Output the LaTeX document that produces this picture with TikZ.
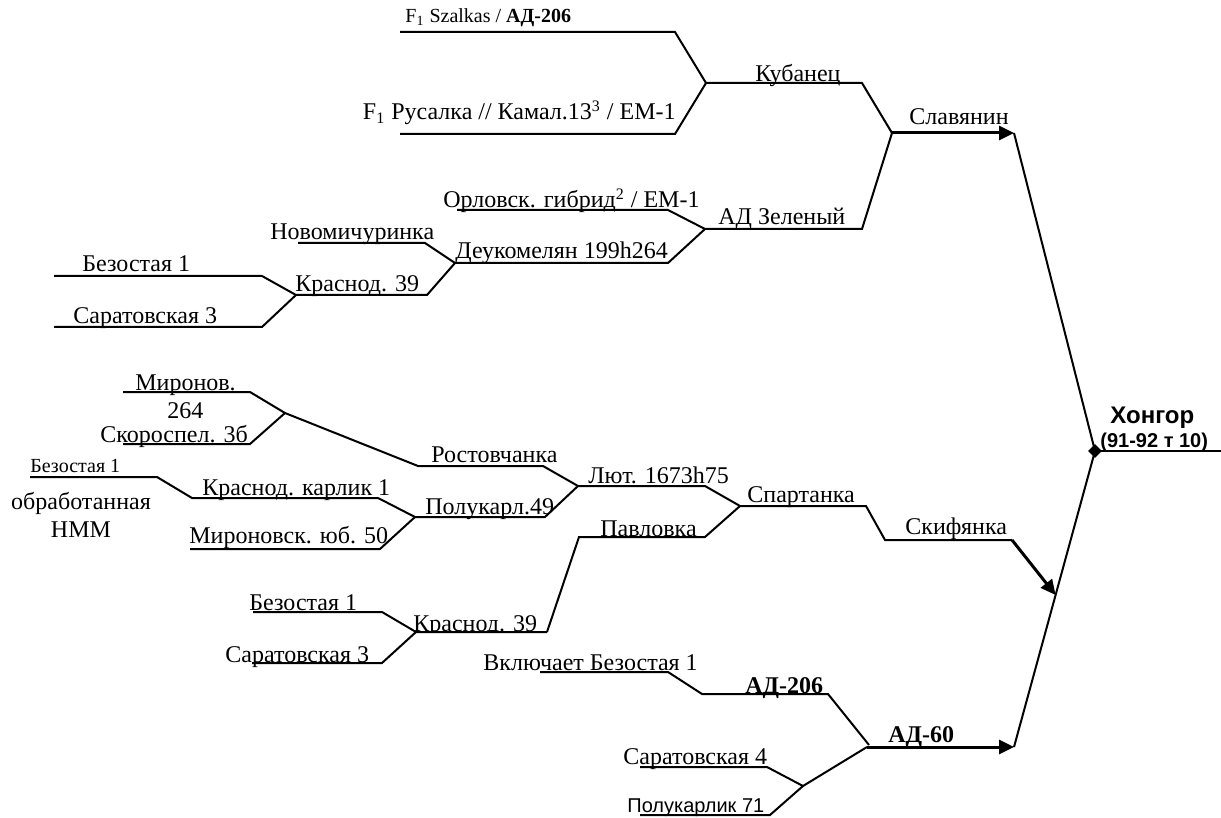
\documentclass[tikz,border=0pt]{standalone}
\usepackage{fontspec}
\setmainfont{Liberation Serif}
\setsansfont{Liberation Sans}
\usetikzlibrary{arrows.meta,shapes.geometric}
\begin{document}
\begin{tikzpicture}[x=0.5pt,y=-0.5pt,
  ln/.style={line width=1pt, line join=miter},
  arr/.style={line width=1.5pt,-{Triangle[length=7.5pt,width=7pt]}},
  lbl/.style={inner sep=0pt, anchor=base west, font=\fontsize{12}{14}\selectfont},
  sml/.style={lbl, font=\fontsize{10}{12}\selectfont},
  ssf/.style={lbl, font=\fontsize{10}{12}\selectfont\sffamily},
  junc/.style={diamond, fill=black, inner sep=0pt, minimum width=7pt, minimum height=7pt}]
\useasboundingbox (0,0) rectangle (1221,818);
% ---------- coordinates (top group)
\coordinate (sz0) at (400,32);  \coordinate (sz1) at (675,32);
\coordinate (ru0) at (400,134); \coordinate (ru1) at (675,134);
\coordinate (ku0) at (706,83);  \coordinate (ku1) at (862,83);
\coordinate (sl0) at (892,133); \coordinate (sl1) at (1014,133);
\coordinate (az0) at (705,229); \coordinate (az1) at (862,229);
\coordinate (or0) at (457,210); \coordinate (or1) at (668,210);
\coordinate (de0) at (455,263); \coordinate (de1) at (668,263);
\coordinate (nm0) at (298,243); \coordinate (nm1) at (425,243);
\coordinate (kr0) at (296,295); \coordinate (kr1) at (427,295);
\coordinate (be0) at (54,276);  \coordinate (be1) at (262,276);
\coordinate (sa0) at (54,327);  \coordinate (sa1) at (262,327);
% ---------- coordinates (middle group)
\coordinate (mi0) at (123,392); \coordinate (mi1) at (250,392);
\coordinate (mj)  at (285,413);
\coordinate (sk0) at (123,444); \coordinate (sk1) at (250,444);
\coordinate (ro0) at (418,466); \coordinate (ro1) at (543,466);
\coordinate (po0) at (415,517); \coordinate (po1) at (545,517);
\coordinate (bs0) at (30,477);  \coordinate (bs1) at (157,477);
\coordinate (kk0) at (192,498); \coordinate (kk1) at (378,498);
\coordinate (my0) at (190,549); \coordinate (my1) at (380,549);
\coordinate (lu0) at (578,486); \coordinate (lu1) at (705,486);
\coordinate (pa0) at (579,537); \coordinate (pa1) at (705,537);
\coordinate (sp0) at (740,506); \coordinate (sp1) at (866,506);
\coordinate (sf0) at (885,540); \coordinate (sf1) at (1012,540);
\coordinate (sft) at (1055.6,595);
% ---------- coordinates (bottom group)
\coordinate (b20) at (253,612); \coordinate (b21) at (382,612);
\coordinate (s20) at (252,663); \coordinate (s21) at (382,663);
\coordinate (k20) at (416,632); \coordinate (k21) at (547,632);
\coordinate (vb0) at (540,672); \coordinate (vb1) at (668,672);
\coordinate (a20) at (702,694); \coordinate (a21) at (828,694);
\coordinate (a6j) at (869,745);
\coordinate (a60) at (867,747); \coordinate (a61) at (1014,747);
\coordinate (s40) at (640,767); \coordinate (s41) at (767,767);
\coordinate (pk0) at (640,815); \coordinate (pk1) at (770,815);
\coordinate (pj)  at (803,786);
\coordinate (he)  at (1221,451);
% ---------- lines (top)
\draw[ln] (sz0) -- (sz1) -- (ku0) -- (ku1) -- (sl0);
\draw[ln] (ru0) -- (ru1) -- (ku0);
\draw[ln] (or0) -- (or1) -- (az0) -- (az1) -- (sl0);
\draw[ln] (de0) -- (de1) -- (az0);
\draw[ln] (nm0) -- (nm1) -- (de0);
\draw[ln] (kr0) -- (kr1) -- (de0);
\draw[ln] (be0) -- (be1) -- (kr0);
\draw[ln] (sa0) -- (sa1) -- (kr0);
\draw[arr] (sl0) -- (sl1);
% ---------- lines (middle)
\draw[ln] (mi0) -- (mi1) -- (mj) -- (ro0) -- (ro1) -- (lu0) -- (lu1) -- (sp0) -- (sp1) -- (sf0) -- (sf1);
\draw[ln] (sk0) -- (sk1) -- (mj);
\draw[ln] (bs0) -- (bs1) -- (kk0) -- (kk1) -- (po0) -- (po1) -- (lu0);
\draw[ln] (my0) -- (my1) -- (po0);
\draw[ln] (k21) -- (pa0) -- (pa1) -- (sp0);
\draw[arr] (sf1) -- (sft);
% ---------- lines (bottom)
\draw[ln] (b20) -- (b21) -- (k20) -- (k21);
\draw[ln] (s20) -- (s21) -- (k20);
\draw[ln] (vb0) -- (vb1) -- (a20) -- (a21) -- (a6j);
\draw[ln] (s40) -- (s41) -- (pj) -- (a60);
\draw[ln] (pk0) -- (pk1) -- (pj);
\draw[arr] (a60) -- (a61);
% ---------- final junction
\node[junc] (hk) at (1095,451) {};
\draw[ln] (sl1) -- (hk.center);
\draw[ln] (a61) -- (hk.center);
\draw[ln] (hk.center) -- (he);
% ---------- labels (top)
\node[sml] (tsz) at (405,23) {F\textsubscript{1} Szalkas / \textbf{АД-206}};
\node[lbl, anchor=base east] (tru) at (676,120) {F\textsubscript{1} Русалка // Камал.13\textsuperscript{3} / ЕМ-1};
\node[lbl] (tku) at (755,82) {Кубанец};
\node[lbl] (tsl) at (909,125) {Славянин};
\node[lbl] (tor) at (443,208) {Орловск. гибрид\textsuperscript{2} / ЕМ-1};
\node[lbl] (taz) at (718,225) {АД Зеленый};
\node[lbl] (tnm) at (270,240) {Новомичуринка};
\node[lbl] (tde) at (455,259) {Деукомелян 199h264};
\node[lbl] (tkr) at (295,292) {Краснод. 39};
\node[lbl] (tbe) at (82,272) {Безостая 1};
\node[lbl] (tsa) at (73,323) {Саратовская 3};
% ---------- labels (middle)
\node[lbl] (tmi) at (135,390) {Миронов.};
\node[lbl] (t264) at (167,418) {264};
\node[lbl] (tsk) at (100,442) {Скороспел. 3б};
\node[sml] (tbs) at (30,472) {Безостая 1};
\node[lbl, anchor=base] (tob) at (81,509) {обработанная};
\node[lbl, anchor=base] (tnmm) at (81,537) {НММ};
\node[lbl] (tro) at (431,462) {Ростовчанка};
\node[lbl] (tkk) at (202,495) {Краснод. карлик 1};
\node[lbl] (tpo) at (425,514) {Полукарл.49};
\node[lbl] (tmy) at (189,543) {Мироновск. юб. 50};
\node[lbl] (tlu) at (588,483) {Лют. 1673h75};
\node[lbl] (tpa) at (600,536) {Павловка};
\node[lbl] (tsp) at (747,502) {Спартанка};
\node[lbl] (tsf) at (905,534) {Скифянка};
% ---------- labels (bottom)
\node[lbl] (tb2) at (249,610) {Безостая 1};
\begin{scope}
\clip (400,590) rectangle (560,630);
\node[lbl] (tk2) at (413,631) {Краснод. 39};
\end{scope}
\node[lbl] (ts2) at (225,662) {Саратовская 3};
\node[lbl] (tvb) at (483,670) {Включает Безостая 1};
\node[lbl] (ta2) at (745,693) {\textbf{АД-206}};
\node[lbl] (ta6) at (888,742) {\textbf{АД-60}};
\node[lbl] (ts4) at (623,764) {Саратовская 4};
\node[ssf] (tpk) at (627,812) {Полукарлик 71};
\node[lbl, font=\fontsize{12}{14}\selectfont\sffamily\bfseries] (thk) at (1110,423) {Хонгор};
\node[ssf, font=\fontsize{10}{12}\selectfont\sffamily\bfseries] (thk2) at (1100,447) {(91-92 т 10)};
\end{tikzpicture}
\end{document}
